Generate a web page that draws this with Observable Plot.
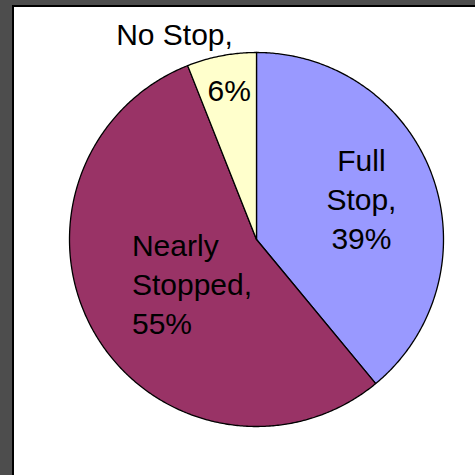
<!DOCTYPE html>
<html>
<head>
<meta charset="utf-8">
<script src="https://cdn.jsdelivr.net/npm/d3@7"></script>
<script src="https://cdn.jsdelivr.net/npm/@observablehq/plot@0.6"></script>
<style>
  html, body { margin: 0; padding: 0; background: #ffffff; }
  #wrap { position: relative; width: 475px; height: 475px; overflow: hidden; }
  #chart { position: absolute; left: 0; top: 0; }
  .fr { position: absolute; z-index: 5; }
</style>
</head>
<body>
<div id="wrap">
  <div id="chart"></div>
  <div class="fr" style="left:0;top:0;width:475px;height:5px;background:#4d4d4d"></div>
  <div class="fr" style="left:0;top:0;width:12px;height:475px;background:#4d4d4d"></div>
  <div class="fr" style="left:12px;top:5px;width:463px;height:1.6px;background:#000"></div>
  <div class="fr" style="left:12px;top:5px;width:1.6px;height:470px;background:#000"></div>
</div>
<script>
// ---- data ----
const categories = ["Full Stop", "Nearly Stopped", "No Stop"];
const percents = [39, 55, 6];
const labelTexts = ["Full\nStop,\n39%", "Nearly\nStopped,\n55%", "No Stop,", "6%"];

// ---- styles / layout ----
const sliceColors = ["#9999FF", "#993366", "#FFFFCC"];
const cx = 256, cy = 239, r = 187;
// label anchors in unit-circle coordinates (u right, v up), baseline of last line
const labelU = [0.561, -0.666, -0.4385, -0.146];
const labelV = [-0.0497, -0.503, 1.041, 0.7396];
const labelAnchor = ["middle", "start", "middle", "middle"];

// ---- build slice outlines from the data ----
const arcs = d3.pie().sort(null).value(d => d)(percents);
const pts = [];
arcs.forEach((a, i) => {
  const cat = categories[i];
  pts.push({cat, u: 0, v: 0});
  const n = Math.max(2, Math.ceil((a.endAngle - a.startAngle) / (Math.PI / 360)));
  for (let k = 0; k <= n; ++k) {
    const t = a.startAngle + (a.endAngle - a.startAngle) * k / n;
    pts.push({cat, u: Math.sin(t), v: Math.cos(t)});
  }
  pts.push({cat, u: 0, v: 0});
});

const labels = labelTexts.map((t, i) => ({t, u: labelU[i], v: labelV[i], anchor: labelAnchor[i]}));

const font = "'Liberation Sans', Arial, sans-serif";
const chart = Plot.plot({
  width: 475,
  height: 475,
  margin: 0,
  style: {background: "#ffffff", fontFamily: font},
  x: {domain: [-1, 1], range: [cx - r, cx + r], axis: null},
  y: {domain: [-1, 1], range: [cy + r, cy - r], axis: null},
  color: {domain: categories, range: sliceColors},
  marks: [
    Plot.line(pts, {x: "u", y: "v", z: "cat", fill: "cat", stroke: "black", strokeWidth: 1.3, strokeLinejoin: "round", curve: "linear"}),
    Plot.text(labels.filter(d => d.anchor === "middle"), {x: "u", y: "v", text: "t", textAnchor: "middle", lineAnchor: "bottom", lineHeight: 1.3, fontSize: 30, fontFamily: font, fill: "black"}),
    Plot.text(labels.filter(d => d.anchor === "start"), {x: "u", y: "v", text: "t", textAnchor: "start", lineAnchor: "bottom", lineHeight: 1.3, fontSize: 30, fontFamily: font, fill: "black"})
  ]
});
document.getElementById("chart").appendChild(chart);
</script>
</body>
</html>
